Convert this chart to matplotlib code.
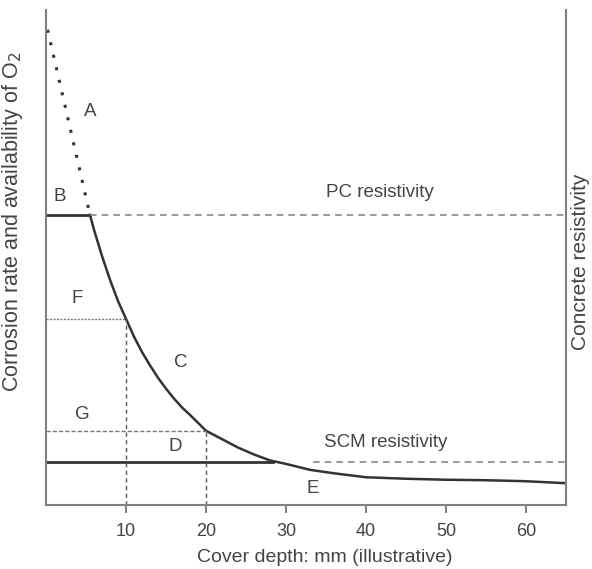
import matplotlib.pyplot as plt

plt.rcParams['font.family'] = ['Liberation Sans', 'DejaVu Sans']

# Curve C/E: corrosion rate vs cover depth
depth = [5.5, 6, 7, 8, 9, 10, 11, 12, 13, 14, 15, 16, 17, 18, 20, 22, 24,
         26, 28, 30, 33, 36, 40, 45, 50, 55, 60, 65]
rate = [58.6, 55.6, 50.3, 45.5, 41.2, 37.6, 34.0, 30.9, 28.2, 25.7, 23.5,
        21.5, 19.7, 18.2, 15.0, 13.3, 11.6, 10.2, 9.0, 8.3, 7.1, 6.4, 5.6,
        5.3, 5.1, 5.0, 4.8, 4.4]

# Dotted line A (oxygen supply limited) and plateau B
a_x = [0.2, 5.5]
a_y = [96.0, 58.6]
pc_level = 58.6
scm_level = 8.6
f_depth, f_rate = 10, 37.6
g_depth, g_rate = 20, 15.0

x_ticks = [10, 20, 30, 40, 50, 60]

letters = ['A', 'B', 'F', 'C', 'G', 'D', 'E']
letter_x = [5.5, 1.7, 3.9, 16.8, 4.6, 16.1, 33.4]
letter_y = [79.4, 62.4, 41.8, 28.7, 18.2, 11.9, 3.4]

line_c = '#333333'
text_c = '#444444'
spine_c = '#808080'

fig = plt.figure(figsize=(5.92, 5.69), dpi=100)
ax = fig.add_axes([0.0777, 0.1125, 0.8784, 0.870])

# curve and limiting lines
ax.plot(depth, rate, color=line_c, linewidth=1.8)
ax.plot(a_x, a_y, color=line_c, linestyle=(0, (1, 3.2)), linewidth=2.2)
ax.plot([0, a_x[1]], [pc_level, pc_level], color=line_c, linewidth=2)
ax.plot([a_x[1], 65], [pc_level, pc_level], color='#888888',
        linestyle=(0, (4, 3)), linewidth=1.2)
ax.plot([0, 28.4], [scm_level, scm_level], color=line_c, linewidth=2)
ax.plot([33.4, 65], [scm_level + 0.1, scm_level + 0.1], color='#888888',
        linestyle=(0, (4, 3)), linewidth=1.2)

# F and G guide lines
ax.plot([0, f_depth], [f_rate, f_rate], color='#777777', linestyle=(0, (1.5, 1)), linewidth=1)
ax.plot([f_depth, f_depth], [0, f_rate], color='#555555', linestyle=(0, (3, 2.5)), linewidth=1)
ax.plot([0, g_depth], [g_rate, g_rate], color='#777777', linestyle=(0, (3, 1.5)), linewidth=1)
ax.plot([g_depth, g_depth], [0, g_rate], color='#555555', linestyle=(0, (3, 2.5)), linewidth=1)

for lab, lx, ly in zip(letters, letter_x, letter_y):
    ax.text(lx, ly, lab, fontsize=13.5, color=text_c, ha='center', va='center')

ax.text(41.75, 63.1, 'PC resistivity', fontsize=13.5, color=text_c, ha='center', va='center')
ax.text(42.5, 12.7, 'SCM resistivity', fontsize=13.5, color=text_c, ha='center', va='center')

ax.set_xlim(0, 65)
ax.set_ylim(0, 100)
ax.set_xticks(x_ticks)
ax.set_yticks([])
ax.tick_params(axis='x', direction='out', length=6, width=1.2, color='#666666',
               labelsize=13, labelcolor=text_c, pad=7)

for side in ['left', 'right', 'bottom']:
    ax.spines[side].set_color(spine_c)
    ax.spines[side].set_linewidth(1.5)
ax.spines['top'].set_visible(False)

# axis titles placed in figure pixels to follow the reference
fig.text(325 / 592, 1 - 557 / 569, 'Cover depth: mm (illustrative)', fontsize=14,
         color=text_c, ha='center', va='center')
fig.text(13 / 592, 1 - 222 / 569, 'Corrosion rate and availability of O$_2$',
         fontsize=15.5, color=text_c, ha='center', va='center', rotation=90)
fig.text(581 / 592, 1 - 262 / 569, 'Concrete resistivity', fontsize=15,
         color=text_c, ha='center', va='center', rotation=90)

fig.savefig('out.png', dpi=100)
